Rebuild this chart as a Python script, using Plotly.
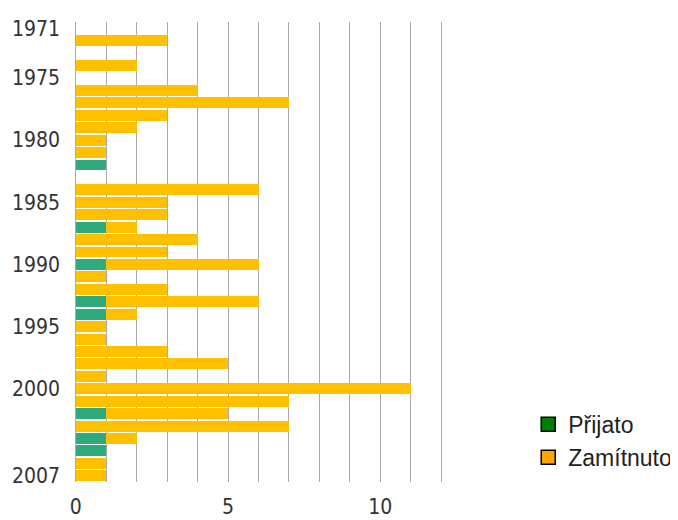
import plotly.graph_objects as go

years = list(range(1971, 2008))
prijato = [0, 0, 0, 0, 0, 0, 0, 0, 0, 0,
           0, 1, 0, 0, 0, 0, 1, 0, 0, 1,
           0, 0, 1, 1, 0, 0, 0, 0, 0, 0,
           0, 1, 0, 1, 1, 0, 0]
zamitnuto = [0, 3, 0, 2, 0, 4, 7, 3, 2, 1,
             1, 0, 0, 6, 3, 3, 1, 4, 3, 5,
             1, 3, 5, 1, 1, 1, 3, 5, 1, 11,
             7, 4, 7, 1, 0, 1, 1]
tick_years = [1971, 1975, 1980, 1985, 1990, 1995, 2000, 2007]
x_grid = list(range(0, 13))
x_labels = ["0" if v == 0 else ("5" if v == 5 else ("10" if v == 10 else "")) for v in x_grid]

fig = go.Figure()
fig.add_bar(y=years, x=prijato, orientation="h", name="Přijato",
            marker=dict(color="#2EAA7D", line=dict(width=0)), showlegend=False)
fig.add_bar(y=years, x=zamitnuto, orientation="h", name="Zamítnuto",
            marker=dict(color="#FFC000", line=dict(width=0)), showlegend=False)
fig.add_scatter(x=[None], y=[None], mode="markers", name="Přijato",
                marker=dict(symbol="square", size=14, color="#008000",
                            line=dict(color="black", width=1.5)))
fig.add_scatter(x=[None], y=[None], mode="markers", name="Zamítnuto",
                marker=dict(symbol="square", size=14, color="#FFA500",
                            line=dict(color="black", width=1.5)))

tick_font = dict(family="DejaVu Sans Condensed, Liberation Sans", size=21, color="#333333")
fig.update_layout(
    barmode="stack", bargap=0.12,
    width=670, height=512,
    margin=dict(l=66, r=235, t=14, b=38, autoexpand=False),
    plot_bgcolor="white", paper_bgcolor="white",
    xaxis=dict(range=[-0.06, 12.06], tickvals=x_grid, ticktext=x_labels,
               showgrid=True, gridcolor="#ABABAB", gridwidth=1.2,
               zeroline=False, showline=False, ticks="", automargin=False,
               tickfont=tick_font, ticklabelstandoff=10),
    yaxis=dict(range=[2007.5, 1970.5], tickvals=tick_years,
               showgrid=False, zeroline=False, showline=False, ticks="",
               automargin=False,
               tickfont=tick_font, ticklabelstandoff=13),
    legend=dict(x=1.231, y=0.172, xanchor="left", yanchor="top",
                traceorder="normal",
                font=dict(family="Liberation Sans", size=23, color="#222222"),
                bgcolor="rgba(0,0,0,0)", itemwidth=30),
)

fig.write_html("out.html")
